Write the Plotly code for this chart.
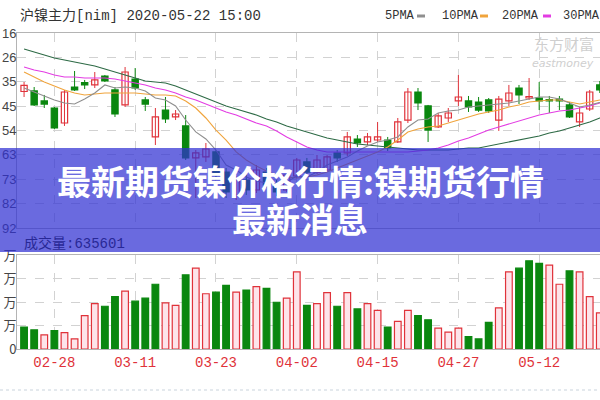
import plotly.graph_objects as go

# ---------------- data ----------------
dates = ["02-25", "02-26", "02-27", "02-28", "03-02", "03-03", "03-04", "03-05", "03-06", "03-09",
         "03-10", "03-11", "03-12", "03-13", "03-16", "03-17", "03-18", "03-19", "03-20", "03-23",
         "03-24", "03-25", "03-26", "03-27", "03-30", "03-31", "04-01", "04-02", "04-03", "04-07",
         "04-08", "04-09", "04-10", "04-13", "04-14", "04-15", "04-16", "04-17", "04-20", "04-21",
         "04-22", "04-23", "04-24", "04-27", "04-28", "04-29", "04-30", "05-06", "05-07", "05-08",
         "05-11", "05-12", "05-13", "05-14", "05-15", "05-18", "05-19", "05-20", "05-21", "05-22"]

opens = [105080, 105130, 104150, 103460, 101990, 105520, 105960, 105720, 106600, 105230,
         103760, 106300, 104250, 100620, 103260, 102580, 101700, 98560, 98660, 99150,
         97180, 94930, 96400, 95420, 97180, 96010, 95420, 96790, 98170, 97180,
         97380, 99050, 99050, 100420, 100130, 100320, 100320, 100130, 102280, 105030,
         103660, 101600, 102480, 104150, 104150, 104050, 104250, 102280, 104150, 105420,
         104440, 104440, 104290, 104340, 103760, 102090, 103360, 105720, 105230, 105620]
highs = [106010, 105520, 104740, 103560, 105230, 107090, 106210, 106990, 106700, 105520,
         107480, 107380, 104540, 103460, 104540, 103260, 102770, 99340, 100030, 99340,
         97580, 96790, 97180, 97870, 97580, 96400, 97180, 98560, 98560, 98850,
         98850, 99340, 101110, 100810, 101010, 102090, 100620, 102480, 105420, 105420,
         103760, 102970, 103460, 106700, 104640, 104540, 104440, 104640, 105720, 105720,
         106400, 106010, 104640, 104640, 104050, 103560, 105230, 106110, 106210, 105910]
lows = [104540, 103660, 103460, 101400, 101700, 105130, 105320, 105420, 106010, 102580,
        103560, 105230, 103170, 99830, 101990, 102280, 98360, 94630, 98170, 96400,
        94630, 94440, 94930, 95120, 95620, 94830, 95220, 96600, 96790, 96990,
        97180, 98170, 98750, 99640, 99830, 100130, 99240, 100030, 101990, 103260,
        100130, 101500, 102090, 103660, 103070, 103070, 102970, 101210, 103660, 103850,
        104250, 103260, 102970, 103260, 102480, 101600, 103170, 104930, 104740, 104440]
closes = [105670, 103760, 103850, 101500, 105030, 105230, 105720, 106210, 106110, 102870,
          106990, 105420, 103850, 102580, 102380, 102870, 98560, 99050, 99440, 96890,
          95220, 96400, 95420, 97380, 95910, 95220, 96890, 98360, 97180, 98360,
          98660, 98560, 100620, 100030, 100620, 100620, 99540, 102090, 105030, 103950,
          101300, 102680, 102970, 104540, 103560, 103260, 103170, 104340, 104930, 104740,
          104590, 104150, 104150, 104150, 102580, 102970, 105030, 105230, 105810, 104740]

ma5 = [105420, 105030, 104640, 104250, 103950, 103850, 104340, 104930, 105720, 105420,
       105520, 105420, 105130, 104440, 104250, 103660, 102280, 101110, 100420, 99340,
       97870, 97380, 96690, 96300, 96110, 96110, 96200, 96790, 96690, 97180,
       97870, 98260, 98660, 99240, 99730, 100130, 100320, 100620, 101600, 102280,
       102380, 102970, 103170, 103260, 103560, 103660, 103760, 103850, 103950, 104150,
       104340, 104540, 104540, 104340, 103950, 103560, 103760, 104050, 104250, 104340]
ma10 = [106990, 106500, 106010, 105620, 105230, 104930, 104740, 104830, 104930, 104930,
        104930, 104930, 104830, 104740, 104740, 104640, 104150, 103460, 102480, 101300,
        100320, 99150, 98360, 97770, 97280, 96890, 96690, 96600, 96690, 96890,
        97180, 97580, 97970, 98360, 98750, 99150, 99640, 100320, 101110, 101400,
        101600, 101700, 101990, 102280, 102580, 102870, 103070, 103260, 103560, 103760,
        104050, 104150, 104250, 104250, 104050, 103850, 104050, 104250, 104340, 104340]
ma20 = [107480, 107190, 106990, 106700, 106500, 106500, 106400, 106400, 106400, 106300,
        106110, 105910, 105720, 105420, 105230, 104930, 104540, 104250, 103850, 103460,
        103070, 102770, 102380, 101990, 101700, 101210, 100620, 100130, 99640, 99340,
        99150, 99150, 99150, 99150, 99150, 99150, 99150, 99150, 99150, 99240,
        99340, 99540, 99830, 100220, 100520, 100910, 101300, 101600, 101890, 102190,
        102480, 102770, 102970, 103170, 103260, 103460, 103660, 103950, 104150, 104250]
ma30 = [109250, 108950, 108660, 108360, 108170, 107970, 107780, 107580, 107290, 106990,
        106700, 106400, 106110, 106010, 105910, 105620, 105230, 104830, 104440, 104050,
        103660, 103360, 103070, 102770, 102380, 102090, 101700, 101400, 101110, 100810,
        100520, 100320, 100130, 99930, 99830, 99730, 99640, 99540, 99440, 99340,
        99340, 99340, 99340, 99440, 99540, 99540, 99730, 99930, 100130, 100320,
        100520, 100710, 101010, 101210, 101500, 101790, 102090, 102480, 102770, 103070]

volumes = [187000, 163000, 120000, 157000, 140000, 86000, 284000, 387000, 364000, 445000,
           493000, 407000, 433000, 551000, 393000, 372000, 631000, 688000, 470000, 484000,
           542000, 484000, 502000, 531000, 516000, 398000, 433000, 656000, 372000, 387000,
           479000, 364000, 479000, 341000, 387000, 329000, 187000, 235000, 329000, 284000,
           249000, 178000, 144000, 178000, 106000, 86000, 226000, 350000, 656000, 688000,
           751000, 729000, 714000, 551000, 665000, 656000, 445000, 307000, 480000, 635601]
vol_up = [0, 0, 1, 0, 1, 1, 1, 1, 0, 0,
          1, 0, 0, 0, 1, 1, 0, 1, 1, 0,
          0, 1, 0, 1, 0, 0, 1, 1, 0, 1,
          1, 0, 1, 0, 1, 1, 0, 1, 1, 0,
          0, 1, 1, 1, 0, 0, 0, 1, 1, 0,
          0, 0, 1, 1, 0, 1, 1, 1, 1, 0]

price_ticks = [110816, 108425, 106035, 103644, 101254, 98863, 96472, 94082, 91691]
price_tick_text = ["16", "26", "35", "45", "54", "63", "73", "82", "92"]
vol_ticks = [0, 200000, 400000, 600000, 800000]
vol_tick_text = ["0", "万", "万", "万", "万"]
date_ticks = ["02-28", "03-11", "03-23", "04-02", "04-15", "04-27", "05-12"]

title_text = "沪镍主力[nim] 2020-05-22 15:00"
vol_label = "成交量:635601"
headline1 = "最新期货镍价格行情:镍期货行情"
headline2 = "最新消息"
ma_names = ["5PMA", "10PMA", "20PMA", "30PMA"]

# ---------------- styling ----------------
RED = "#e0323a"
GREEN = "#0a870f"
HOLLOW = "#ffffff"
VOL_PINK = "#fde4ea"
GRID = "#d2d2d2"
MA_COLORS = ["#8f8f8f", "#f0a43c", "#e33ce3", "#2d6a45"]

W, H = 600, 400
ML, MR, MT, MB = 17, 0, 33, 51
PW, PH = W - ML - MR, H - MT - MB


def px_x(x):
    return (x - ML) / PW


def px_y(y):
    return (H - MB - y) / PH


idx = list(range(len(dates)))
tick_idx = [dates.index(d) for d in date_ticks]

fig = go.Figure()

# wicks
for up, col in [(True, RED), (False, GREEN)]:
    wx, wy = [], []
    for i in idx:
        if (closes[i] >= opens[i]) == up:
            wx += [i, i, None]
            wy += [lows[i], highs[i], None]
    fig.add_trace(go.Scatter(x=wx, y=wy, mode="lines", line=dict(color=col, width=1),
                             xaxis="x", yaxis="y", hoverinfo="skip"))

# bodies
for up, col, fill in [(True, RED, HOLLOW), (False, GREEN, GREEN)]:
    bx, bb, bh = [], [], []
    for i in idx:
        if (closes[i] >= opens[i]) == up:
            bx.append(i)
            bb.append(min(opens[i], closes[i]))
            bh.append(abs(closes[i] - opens[i]))
    fig.add_trace(go.Bar(x=bx, y=bh, base=bb, width=0.62, xaxis="x", yaxis="y",
                         marker=dict(color=fill, line=dict(color=col, width=1.2))))

# moving averages
for series, col in zip([ma30, ma20, ma10, ma5], MA_COLORS[::-1]):
    fig.add_trace(go.Scatter(x=idx, y=series, mode="lines", line=dict(color=col, width=1.1),
                             xaxis="x", yaxis="y", hoverinfo="skip"))

# volume
for up, col, fill in [(1, RED, VOL_PINK), (0, GREEN, GREEN)]:
    vx = [i for i in idx if vol_up[i] == up]
    vy = [volumes[i] for i in vx]
    fig.add_trace(go.Bar(x=vx, y=vy, width=0.66, xaxis="x2", yaxis="y2",
                         marker=dict(color=fill, line=dict(color=col, width=1.2))))

axis_common = dict(showgrid=True, gridcolor=GRID, griddash="dash", gridwidth=1,
                   zeroline=False, ticks="", showline=True, linecolor="#b4b4b4",
                   linewidth=1, mirror=True, automargin=False)

fig.update_layout(
    width=W, height=H,
    margin=dict(l=ML, r=MR, t=MT, b=MB, autoexpand=False),
    paper_bgcolor="white", plot_bgcolor="white",
    showlegend=False, barmode="overlay",
    xaxis=dict(domain=[0, 1], anchor="y", range=[-0.7, 57.02], tickvals=tick_idx,
               showticklabels=False, **axis_common),
    xaxis2=dict(domain=[0, 1], anchor="y2", matches="x", tickvals=tick_idx, ticktext=date_ticks,
                tickfont=dict(family="Liberation Mono", size=14, color=RED), **axis_common),
    yaxis=dict(domain=[px_y(228), 1], range=[91691, 110816], tickvals=price_ticks,
               ticktext=price_tick_text, ticklabelstandoff=-3,
               tickfont=dict(family="Liberation Sans", size=13, color="#454545"), **axis_common),
    yaxis2=dict(domain=[0, px_y(255)], range=[0, 800000], tickvals=vol_ticks,
                ticktext=vol_tick_text, ticklabelstandoff=-3,
                tickfont=dict(family="Noto Sans CJK SC", size=13, color="#454545"), **axis_common),
)

shapes = []
# dotted separator below chart
shapes.append(dict(type="line", xref="paper", yref="paper", x0=px_x(0), x1=1,
                   y0=px_y(390), y1=px_y(390), line=dict(color="#c9d3dc", width=1, dash="dot")))
# legend dashes
for xs, col in zip([417, 480, 543], MA_COLORS[:3]):
    shapes.append(dict(type="line", xref="paper", yref="paper", x0=px_x(xs), x1=px_x(xs + 8),
                       y0=px_y(16), y1=px_y(16), line=dict(color=col, width=3)))
# headline band
shapes.append(dict(type="rect", xref="paper", yref="paper", x0=px_x(0), x1=1,
                   y0=px_y(252), y1=px_y(148), fillcolor="rgba(48,48,210,0.72)",
                   line=dict(width=0), layer="above"))
fig.update_layout(shapes=shapes)

ann = []
ann.append(dict(text=title_text, x=px_x(18), y=px_y(16), xref="paper", yref="paper",
                xanchor="left", yanchor="middle", showarrow=False,
                font=dict(family="Liberation Mono, Noto Sans CJK SC", size=14, color="#333333")))
for name, xs in zip(ma_names, [383, 440, 500, 561]):
    ann.append(dict(text=name, x=px_x(xs), y=px_y(16), xref="paper", yref="paper",
                    xanchor="left", yanchor="middle", showarrow=False,
                    font=dict(family="Liberation Mono", size=12, color="#333333")))
ann.append(dict(text="东方财富", x=px_x(596), y=px_y(44), xref="paper", yref="paper",
                xanchor="right", yanchor="middle", showarrow=False,
                font=dict(family="Noto Sans CJK SC", size=15, color="#cfcfcf")))
ann.append(dict(text="<i>eastmoney</i>", x=px_x(596), y=px_y(64), xref="paper", yref="paper",
                xanchor="right", yanchor="middle", showarrow=False,
                font=dict(family="DejaVu Sans", size=11, color="#cfcfcf")))
ann.append(dict(text=vol_label, x=px_x(22), y=px_y(243), xref="paper", yref="paper",
                xanchor="left", yanchor="middle", showarrow=False,
                font=dict(family="Liberation Mono, Noto Sans CJK SC", size=14, color="rgb(40,40,150)")))
ann.append(dict(text="<b>" + headline1 + "</b>", x=px_x(300), y=px_y(180), xref="paper", yref="paper",
                xanchor="center", yanchor="middle", showarrow=False,
                font=dict(family="Noto Sans CJK SC", size=34, color="white")))
ann.append(dict(text="<b>" + headline2 + "</b>", x=px_x(300), y=px_y(218), xref="paper", yref="paper",
                xanchor="center", yanchor="middle", showarrow=False,
                font=dict(family="Noto Sans CJK SC", size=34, color="white")))
fig.update_layout(annotations=ann)

fig.write_html("out.html", post_script="document.body.style.margin='0';",
               config={"displayModeBar": False})
